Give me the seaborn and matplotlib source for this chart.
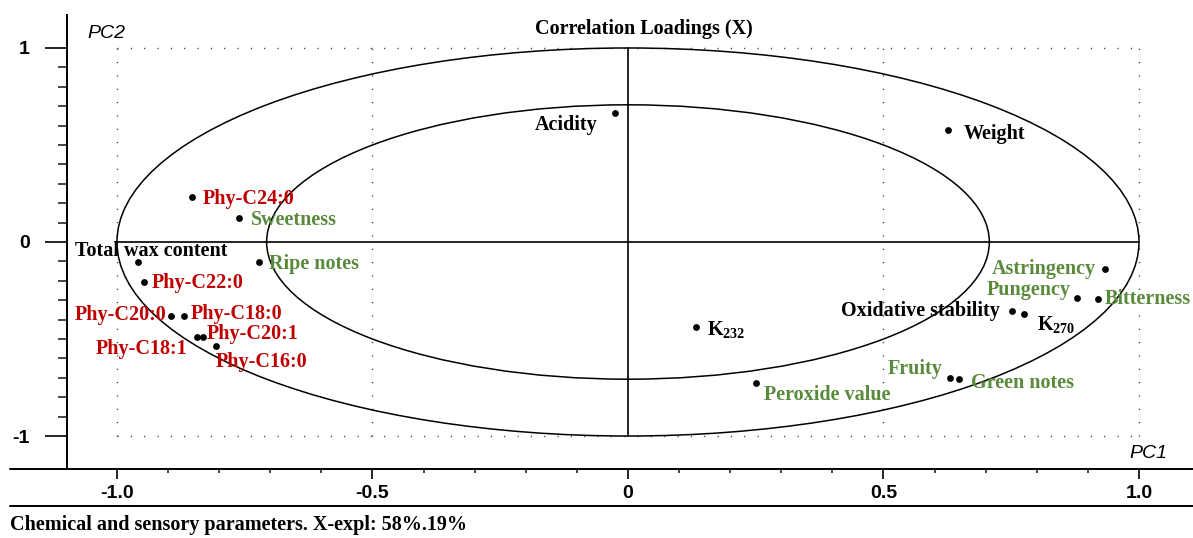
import matplotlib
matplotlib.use("Agg")
import matplotlib.pyplot as plt
from matplotlib.lines import Line2D
from matplotlib.patches import Ellipse
from matplotlib.ticker import FixedLocator, NullFormatter
import pandas as pd
import seaborn as sns

# Correlation loadings of the chemical and sensory parameters on PC1 / PC2
variables = [
    "Acidity", "Weight", "Phy-C24:0", "Sweetness", "Total wax content",
    "Ripe notes", "Phy-C22:0", "Phy-C20:0", "Phy-C18:0", "Phy-C18:1",
    "Phy-C20:1", "Phy-C16:0", "Astringency", "Pungency", "Bitterness",
    "Oxidative stability", "K270", "Fruity", "Green notes", "K232",
    "Peroxide value",
]
pc1 = [-0.025, 0.627, -0.854, -0.761, -0.958, -0.722, -0.947, -0.894, -0.868,
       -0.844, -0.832, -0.807, 0.933, 0.878, 0.919, 0.751, 0.775, 0.630,
       0.648, 0.134, 0.250]
pc2 = [0.663, 0.577, 0.234, 0.124, -0.105, -0.103, -0.206, -0.380, -0.383,
       -0.488, -0.491, -0.535, -0.139, -0.287, -0.295, -0.356, -0.373,
       -0.699, -0.706, -0.437, -0.725]
groups = [
    "chemical", "chemical", "wax", "sensory", "chemical", "sensory", "wax",
    "wax", "wax", "wax", "wax", "wax", "sensory", "sensory", "sensory",
    "chemical", "chemical", "sensory", "sensory", "chemical", "sensory",
]
display_names = {"K270": r"K$_{\mathrm{270}}$", "K232": r"K$_{\mathrm{232}}$"}

x_major = [-1.0, -0.5, 0.0, 0.5, 1.0]
x_major_labels = ["-1.0", "-0.5", "0", "0.5", "1.0"]
y_major = [-1.0, 0.0, 1.0]
y_major_labels = ["-1", "0", "1"]

title = "Correlation Loadings (X)"
caption = "Chemical and sensory parameters. X-expl: 58%.19%"

group_colors = {"chemical": "#000000", "wax": "#C00000", "sensory": "#5A8A3C"}

# label offsets in pixels (dx, dy) and horizontal anchor
label_layout = {
    "Acidity": (-18, -12, "right"),
    "Weight": (15, -4, "left"),
    "Phy-C24:0": (11, -2, "left"),
    "Sweetness": (12, -2, "left"),
    "Total wax content": (13, 11, "center"),
    "Ripe notes": (10, -2, "left"),
    "Phy-C22:0": (8, -1, "left"),
    "Phy-C20:0": (-5, 1, "right"),
    "Phy-C18:0": (6, 2, "left"),
    "Phy-C18:1": (-9, -12, "right"),
    "Phy-C20:1": (4, 3, "left"),
    "Phy-C16:0": (0, -16, "left"),
    "Astringency": (-9, 0, "right"),
    "Pungency": (-6, 8, "right"),
    "Bitterness": (7, 0, "left"),
    "Oxidative stability": (-12, 0, "right"),
    "K270": (13, -10, "left"),
    "Fruity": (-7, 9, "right"),
    "Green notes": (12, -4, "left"),
    "K232": (11, -3, "left"),
    "Peroxide value": (8, -12, "left"),
}

df = pd.DataFrame({"variable": variables, "PC1": pc1, "PC2": pc2, "group": groups})

sns.set_style("white")
plt.rcParams["font.family"] = ["Liberation Serif", "DejaVu Serif"]
plt.rcParams["text.color"] = "black"
plt.rcParams["mathtext.fontset"] = "custom"
plt.rcParams["mathtext.rm"] = "Liberation Serif:bold"
plt.rcParams["mathtext.bf"] = "Liberation Serif:bold"
plt.rcParams["mathtext.it"] = "Liberation Serif:bold:italic"

W, H = 1193, 538
fig = plt.figure(figsize=(W / 100, H / 100), dpi=100)
ax = fig.add_axes([67 / W, (H - 469) / H, 1 - 67 / W, (469 - 15) / H])
ax.set_facecolor("white")
ax.set_xlim(-1.0978, 1.1057)
ax.set_ylim(-1.170, 1.170)

# dotted reference box and verticals
dot_style = dict(color="#333333", lw=1.0, linestyle=(0, (0.8, 8.8)), zorder=1)
for xv in [-1.0, -0.5, 0.5, 1.0]:
    ax.plot([xv, xv], [-1, 1], **dot_style)
for yv in [-1.0, 1.0]:
    ax.plot([-1, 1], [yv, yv], **dot_style)

# solid cross through the origin
ax.plot([0, 0], [-1, 1], color="black", lw=1.2, zorder=2)
ax.plot([-1, 1], [0, 0], color="black", lw=1.2, zorder=2)

# 100% and 50% explained variance ellipses
for r in [1.0, 0.5 ** 0.5]:
    ax.add_patch(Ellipse((0, 0), 2 * r, 2 * r, fill=False, ec="black", lw=1.1, zorder=2))

sns.scatterplot(data=df, x="PC1", y="PC2", color="black", s=24, linewidth=0,
                legend=False, ax=ax, zorder=4)

for name, x, y, g in zip(variables, pc1, pc2, groups):
    dx, dy, ha = label_layout[name]
    ax.annotate(display_names.get(name, name), (x, y), xytext=(dx, dy),
                textcoords="offset pixels", ha=ha, va="center",
                fontsize=14.5, fontweight="bold", color=group_colors[g],
                family=["Liberation Serif", "DejaVu Serif"], zorder=5)

# axes decoration
for side in ["top", "right", "bottom"]:
    ax.spines[side].set_visible(False)
ax.spines["left"].set_linewidth(1.4)
ax.spines["left"].set_color("black")

ax.xaxis.set_major_locator(FixedLocator(x_major))
ax.set_xticklabels(x_major_labels)
ax.xaxis.set_minor_locator(FixedLocator(
    [v / 10 for v in range(-9, 10) if v % 5 != 0]))
ax.yaxis.set_major_locator(FixedLocator(y_major))
ax.set_yticklabels(y_major_labels)
ax.yaxis.set_minor_locator(FixedLocator(
    [v / 10 for v in range(-9, 10) if v != 0]))
ax.xaxis.set_minor_formatter(NullFormatter())
ax.yaxis.set_minor_formatter(NullFormatter())

ax.tick_params(axis="x", which="major", direction="out", length=7.2, width=1.2,
               pad=4, bottom=True, labelsize=14, colors="black")
ax.tick_params(axis="x", which="minor", direction="out", length=3, width=1.2,
               bottom=True)
ax.tick_params(axis="y", which="major", direction="out", length=15.8, width=1.2,
               pad=11, left=True, labelsize=14, colors="black")
ax.tick_params(axis="y", which="minor", direction="out", length=6.5, width=1.2,
               left=True)
for lab in ax.get_xticklabels() + ax.get_yticklabels():
    lab.set_family(["Liberation Sans", "DejaVu Sans"])
    lab.set_fontweight("bold")
ax.set_xlabel("")
ax.set_ylabel("")

ax.text(-1.021, 1.077, "PC2", fontsize=14, style="italic", color="black",
        family=["Liberation Sans", "DejaVu Sans"], ha="center", va="center")
ax.text(1.018, -1.088, "PC1", fontsize=14, style="italic", color="black",
        family=["Liberation Sans", "DejaVu Sans"], ha="center", va="center")

# baseline rules framing the x tick labels
for ypx in [469, 506]:
    fig.add_artist(Line2D([10 / W, 1.0], [(H - ypx) / H] * 2, color="black",
                          lw=1.4, transform=fig.transFigure))

fig.text(644 / W, 1 - 29 / H, title, ha="center", va="center", fontsize=14.5,
         fontweight="bold", color="black",
         family=["Liberation Serif", "DejaVu Serif"])
fig.text(10 / W, 1 - 525 / H, caption, ha="left", va="center", fontsize=14.5,
         fontweight="bold", color="black",
         family=["Liberation Serif", "DejaVu Serif"])

fig.savefig("out.png", dpi=100, facecolor="white")
